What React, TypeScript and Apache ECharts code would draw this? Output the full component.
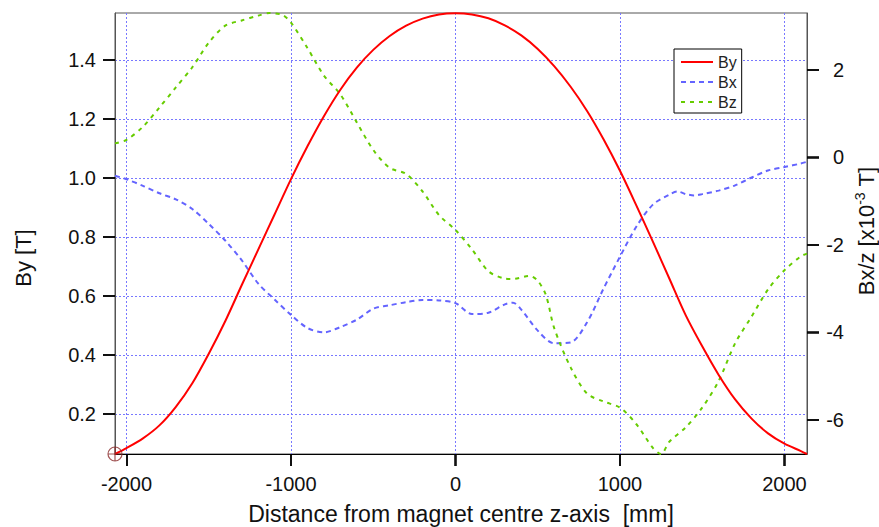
import React, { useEffect, useRef } from "react";
import * as echarts from "echarts";

// Longitudinal field profile of the dipole, z positions in mm
const byPos = [-2070, -2000, -1900, -1800, -1700, -1600, -1500, -1400, -1300, -1200, -1100, -1000, -900, -800, -700, -600, -500, -400, -300, -200, -100, 0, 100, 200, 300, 400, 500, 600, 700, 800, 900, 1000, 1100, 1200, 1300, 1400, 1500, 1600, 1700, 1800, 1900, 2000, 2100, 2137];
const byVals = [0.065, 0.085, 0.118, 0.162, 0.225, 0.305, 0.405, 0.515, 0.637, 0.757, 0.877, 0.997, 1.108, 1.21, 1.30, 1.375, 1.435, 1.482, 1.517, 1.541, 1.555, 1.559, 1.555, 1.542, 1.518, 1.484, 1.438, 1.38, 1.31, 1.228, 1.132, 1.025, 0.907, 0.785, 0.66, 0.535, 0.43, 0.333, 0.25, 0.185, 0.135, 0.1, 0.075, 0.065];

const bxPos = [-2070, -2000, -1900, -1800, -1700, -1600, -1500, -1400, -1300, -1200, -1100, -1000, -900, -800, -700, -600, -500, -400, -300, -200, -100, 0, 100, 200, 300, 350, 400, 500, 600, 700, 800, 900, 1000, 1100, 1200, 1300, 1350, 1400, 1450, 1500, 1600, 1700, 1800, 1900, 2000, 2100, 2137];
const bxVals = [-0.42, -0.5, -0.65, -0.82, -0.96, -1.18, -1.52, -1.9, -2.35, -2.88, -3.25, -3.6, -3.9, -4.0, -3.88, -3.71, -3.46, -3.38, -3.31, -3.26, -3.27, -3.33, -3.58, -3.55, -3.36, -3.32, -3.48, -3.96, -4.25, -4.23, -3.77, -3.0, -2.27, -1.58, -1.08, -0.85, -0.78, -0.84, -0.87, -0.84, -0.76, -0.64, -0.46, -0.3, -0.22, -0.14, -0.1];

const bzPos = [-2070, -2000, -1900, -1800, -1700, -1600, -1500, -1400, -1300, -1200, -1130, -1050, -1000, -900, -800, -700, -600, -500, -400, -300, -200, -100, 0, 100, 200, 300, 350, 450, 500, 550, 600, 700, 800, 900, 1000, 1100, 1200, 1250, 1300, 1400, 1500, 1600, 1700, 1800, 1900, 2000, 2100, 2137];
const bzVals = [0.32, 0.4, 0.7, 1.14, 1.6, 2.06, 2.62, 3.01, 3.13, 3.24, 3.3, 3.25, 3.08, 2.5, 1.87, 1.44, 0.8, 0.17, -0.24, -0.38, -0.78, -1.32, -1.66, -2.1, -2.6, -2.77, -2.78, -2.71, -2.82, -3.15, -3.9, -4.8, -5.4, -5.58, -5.72, -6.1, -6.64, -6.78, -6.5, -6.17, -5.72, -5.11, -4.25, -3.64, -3.02, -2.58, -2.26, -2.2];

const xRange = [-2070, 2137];
const byRange = [0.065, 1.56];
const bxzRange = [-6.78, 3.3];

const xTicks = [-2000, -1000, 0, 1000, 2000];
const byTicks = [0.2, 0.4, 0.6, 0.8, 1.0, 1.2, 1.4];
const bxzTicks = [-6, -4, -2, 0, 2];

const FONT = "'Liberation Sans', Arial, sans-serif";
const TICK_LEN = 12;
const gridLine = { show: true, lineStyle: { color: "#7878ff", width: 1, type: [2, 2] as number[] } };

const pairs = (xs: number[], ys: number[]) => xs.map((x, i) => [x, ys[i]]);

// Outward tick marks as thin filled rects; each item is an [x, y] point on an axis edge
const tickSeries = (points: number[][], yAxisIndex: number, dir: "down" | "left" | "right") => ({
  type: "custom",
  yAxisIndex,
  silent: true,
  clip: false,
  z: 8,
  data: points,
  renderItem: (_params: any, api: any) => {
    const p = api.coord([api.value(0), api.value(1)]);
    const x = Math.round(p[0]);
    const y = Math.round(p[1]);
    const shape =
      dir === "down"
        ? { x: x - 0.75, y, width: 1.5, height: TICK_LEN }
        : dir === "left"
        ? { x: x - TICK_LEN, y: y - 0.75, width: TICK_LEN, height: 1.5 }
        : { x, y: y - 0.75, width: TICK_LEN, height: 1.5 };
    return { type: "rect", shape, style: { fill: "#000" } };
  },
});

export default function App() {
  const ref = useRef<HTMLDivElement>(null);

  useEffect(() => {
    if (!ref.current) return;
    const chart = echarts.init(ref.current, undefined, { renderer: "svg" });
    chart.setOption({
      animation: false,
      backgroundColor: "#ffffff",
      grid: { left: 115, top: 13, right: 72, bottom: 73, show: true, borderColor: "#555", borderWidth: 1 },
      legend: {
        data: ["By", "Bx", "Bz"],
        orient: "vertical",
        left: 674,
        top: 49,
        itemWidth: 32,
        itemHeight: 14,
        itemGap: 4,
        padding: [5, 5, 3, 6],
        backgroundColor: "#fff",
        borderColor: "#000",
        borderWidth: 1,
        itemStyle: { opacity: 0, borderWidth: 0 },
        textStyle: { fontSize: 16, color: "#222", fontFamily: FONT },
      },
      xAxis: {
        type: "value",
        min: xRange[0],
        max: xRange[1],
        splitNumber: 4,
        axisLine: { show: true, onZero: false, lineStyle: { color: "#000", width: 1 } },
        axisTick: { show: true, length: TICK_LEN, customValues: xTicks, lineStyle: { color: "#000", width: 1.5 } },
        axisLabel: {
          customValues: xTicks,
          fontSize: 20,
          color: "#111",
          margin: 20,
          fontFamily: FONT,
          formatter: (v: number) => String(v),
        },
        splitLine: gridLine,
      },
      yAxis: [
        {
          type: "value",
          position: "left",
          min: byRange[0],
          max: byRange[1],
          splitNumber: 7,
          axisLine: { show: true, onZero: false, lineStyle: { color: "#555" } },
          axisTick: { show: true, length: TICK_LEN, customValues: byTicks, lineStyle: { color: "#000", width: 1.5 } },
          axisLabel: {
            customValues: byTicks,
            fontSize: 20,
            color: "#111",
            margin: 19,
            fontFamily: FONT,
            formatter: (v: number) => v.toFixed(1),
          },
          splitLine: gridLine,
        },
        {
          type: "value",
          position: "right",
          min: bxzRange[0],
          max: bxzRange[1],
          splitNumber: 5,
          axisLine: { show: true, onZero: false, lineStyle: { color: "#555" } },
          axisTick: { show: true, length: TICK_LEN, customValues: bxzTicks, lineStyle: { color: "#000", width: 1.5 } },
          axisLabel: {
            customValues: bxzTicks,
            fontSize: 20,
            color: "#111",
            margin: 37,
            align: "right",
            fontFamily: FONT,
            formatter: (v: number) => String(v),
          },
          splitLine: { show: false },
        },
      ],
      series: [
        {
          name: "By",
          type: "line",
          yAxisIndex: 0,
          data: pairs(byPos, byVals),
          showSymbol: false,
          symbol: "none",
          smooth: 0.3,
          color: "#ff0000",
          lineStyle: { color: "#ff0000", width: 2 },
          z: 4,
        },
        {
          name: "Bx",
          type: "line",
          yAxisIndex: 1,
          data: pairs(bxPos, bxVals),
          showSymbol: false,
          symbol: "none",
          smooth: 0.3,
          color: "#6464ff",
          lineStyle: { color: "#6464ff", width: 2, type: [5, 4] },
          z: 3,
        },
        {
          name: "Bz",
          type: "line",
          yAxisIndex: 1,
          data: pairs(bzPos, bzVals),
          showSymbol: false,
          symbol: "none",
          smooth: 0.3,
          color: "#66cc00",
          lineStyle: { color: "#66cc00", width: 2, type: [4, 5] },
          z: 3,
        },
        {
          // cursor marker on the first By sample
          name: "cursor",
          type: "scatter",
          yAxisIndex: 0,
          data: [[byPos[0], byVals[0]]],
          symbol: "path://M0,-10A10,10,0,1,1,0,10A10,10,0,1,1,0,-10ZM0,-10L0,10M-10,0L10,0",
          symbolSize: 14,
          itemStyle: { color: "rgba(0,0,0,0)", borderColor: "#8a2a2a", borderWidth: 1.2 },
          clip: false,
          silent: true,
          z: 6,
        },
        tickSeries(xTicks.map((v) => [v, byRange[0]]), 0, "down"),
        tickSeries(byTicks.map((v) => [xRange[0], v]), 0, "left"),
        tickSeries(bxzTicks.map((v) => [xRange[1], v]), 1, "right"),
      ],
      graphic: [
        {
          type: "text",
          x: 23,
          y: 258,
          rotation: Math.PI / 2,
          style: { text: "By [T]", fontSize: 22, fontFamily: FONT, fill: "#111", align: "center", verticalAlign: "middle" },
        },
        {
          type: "text",
          x: 866,
          y: 231,
          rotation: Math.PI / 2,
          style: {
            text: "{n|Bx/z [x10}{s|-3}{n| T]}",
            fill: "#111",
            align: "center",
            verticalAlign: "middle",
            rich: {
              n: { fontSize: 22, fontFamily: FONT, fill: "#111", lineHeight: 26 },
              s: { fontSize: 14, fontFamily: FONT, fill: "#111", verticalAlign: "top", lineHeight: 26 },
            },
          },
        },
        {
          type: "text",
          x: 461,
          y: 514,
          style: {
            text: "Distance from magnet centre z-axis  [mm]",
            fontSize: 23,
            fontFamily: FONT,
            fill: "#111",
            align: "center",
            verticalAlign: "middle",
          },
        },
      ],
    });
    return () => chart.dispose();
  }, []);

  return <div ref={ref} style={{ position: "fixed", left: 0, top: 0, width: 879, height: 527 }} />;
}
